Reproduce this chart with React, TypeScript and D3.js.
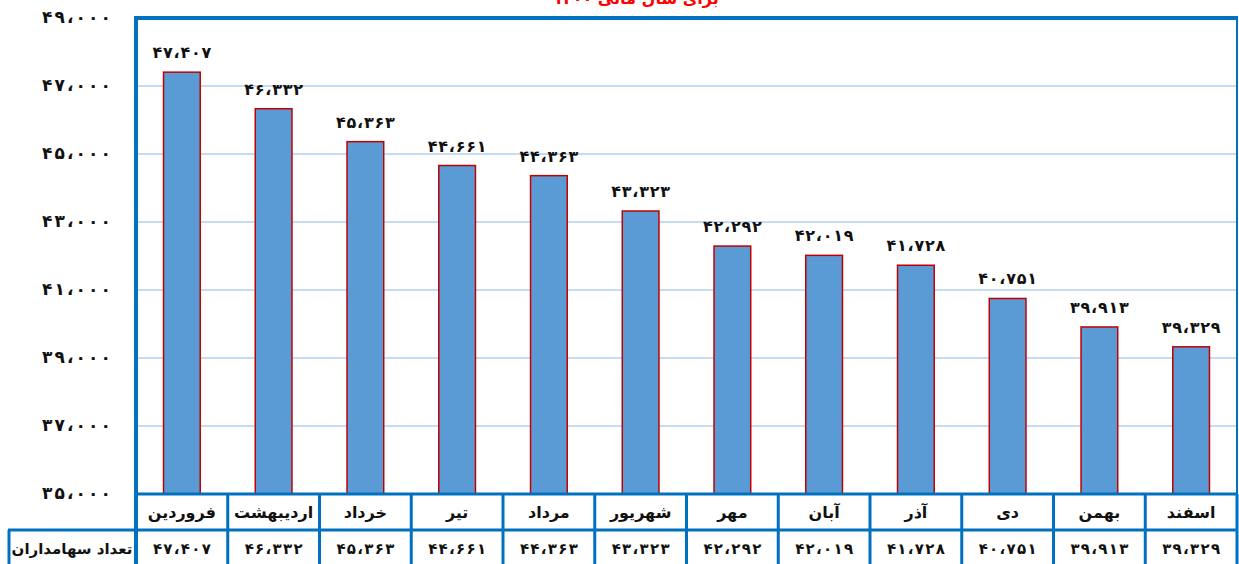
import React, { useRef, useEffect } from 'react';
import * as d3 from 'd3';

const months = ['فروردین', 'اردیبهشت', 'خرداد', 'تیر', 'مرداد', 'شهریور', 'مهر', 'آبان', 'آذر', 'دی', 'بهمن', 'اسفند'];
const holders = [47407, 46332, 45363, 44661, 44363, 43323, 42292, 42019, 41728, 40751, 39913, 39329];
const yTicks = [35000, 37000, 39000, 41000, 43000, 45000, 47000, 49000];
const rowLabel = 'تعداد سهامداران';
const titleText = 'برای سال مالی ۱۴۰۰';

const BLUE = '#0070C0';
const FONT = '"DejaVu Sans", sans-serif';

// persian digits with arabic comma as thousands separator
const fa = (n: number) =>
  d3.format(',')(n).replace(/,/g, '،').replace(/[0-9]/g, d => '۰۱۲۳۴۵۶۷۸۹'[+d]);

export default function App() {
  const ref = useRef<SVGSVGElement | null>(null);

  useEffect(() => {
    const svg = d3.select(ref.current);
    svg.selectAll('*').remove();

    const W = 1239;
    const left = 136, right = 1237, top = 18, bottom = 494;
    const rowH = 36;

    const x = d3.scaleBand().domain(months).range([left, right]).paddingInner(0.6).paddingOuter(0.3);
    const xCell = d3.scaleBand().domain(months).range([left, right]);
    const y = d3.scaleLinear().domain([35000, 49000]).range([bottom, top]);

    // title (cut off at the top like in the source)
    svg.append('text')
      .attr('x', 636).attr('y', 4)
      .attr('text-anchor', 'middle')
      .attr('font-family', FONT).attr('font-weight', 'bold').attr('font-size', 16)
      .attr('fill', '#FF0000')
      .text(titleText);

    // grid lines
    svg.append('g')
      .selectAll('line')
      .data(yTicks.filter(t => t !== 49000 && t !== 35000))
      .join('line')
      .attr('x1', left).attr('x2', right)
      .attr('y1', d => y(d)).attr('y2', d => y(d))
      .attr('stroke', '#8DB9E6').attr('stroke-width', 1);

    // y tick labels (spaced out with textLength, letter-spacing is ignored for arabic script)
    svg.append('g')
      .selectAll('text')
      .data(yTicks)
      .join('text')
      .attr('x', 111).attr('y', d => y(d) + 5)
      .attr('text-anchor', 'end')
      .attr('font-family', FONT).attr('font-weight', 'bold').attr('font-size', 17)
      .attr('textLength', 69).attr('lengthAdjust', 'spacing')
      .attr('fill', '#111')
      .text(d => fa(d));

    // bars
    svg.append('g')
      .selectAll('rect')
      .data(holders)
      .join('rect')
      .attr('x', (d, i) => x(months[i])!)
      .attr('y', d => y(d))
      .attr('width', x.bandwidth())
      .attr('height', d => bottom - y(d))
      .attr('fill', '#5B9BD5')
      .attr('stroke', '#C00000').attr('stroke-width', 1.5);

    // value labels
    svg.append('g')
      .selectAll('text')
      .data(holders)
      .join('text')
      .attr('x', (d, i) => x(months[i])! + x.bandwidth() / 2)
      .attr('y', d => y(d) - 14)
      .attr('text-anchor', 'middle')
      .attr('font-family', FONT).attr('font-weight', 'bold').attr('font-size', 16)
      .attr('textLength', 59).attr('lengthAdjust', 'spacing')
      .attr('fill', '#111')
      .text(d => fa(d));

    // plot frame
    svg.append('line').attr('x1', right).attr('x2', right).attr('y1', top).attr('y2', bottom)
      .attr('stroke', BLUE).attr('stroke-width', 2);
    svg.append('line').attr('x1', left - 2).attr('x2', right + 1).attr('y1', top).attr('y2', top)
      .attr('stroke', BLUE).attr('stroke-width', 4);

    // data table
    const tbl = svg.append('g');
    const r1 = bottom + rowH / 2 + 6;
    const r2 = bottom + rowH + rowH / 2 + 6;
    tbl.selectAll('text.cat')
      .data(months)
      .join('text')
      .attr('class', 'cat')
      .attr('x', d => xCell(d)! + xCell.bandwidth() / 2)
      .attr('y', r1)
      .attr('text-anchor', 'middle')
      .attr('font-family', FONT).attr('font-weight', 'bold').attr('font-size', 16)
      .attr('fill', '#111')
      .text(d => d);
    tbl.selectAll('text.val')
      .data(holders)
      .join('text')
      .attr('class', 'val')
      .attr('x', (d, i) => xCell(months[i])! + xCell.bandwidth() / 2)
      .attr('y', r2)
      .attr('text-anchor', 'middle')
      .attr('font-family', FONT).attr('font-weight', 'bold').attr('font-size', 15)
      .attr('textLength', 58).attr('lengthAdjust', 'spacing')
      .attr('fill', '#111')
      .text(d => fa(d));
    tbl.append('text')
      .attr('x', 72).attr('y', r2)
      .attr('text-anchor', 'middle')
      .attr('font-family', FONT).attr('font-weight', 'bold').attr('font-size', 15)
      .attr('fill', '#111')
      .text(rowLabel);

    const bounds = [left, ...months.map(m => xCell(m)! + xCell.bandwidth())];
    tbl.selectAll('line.v')
      .data(bounds)
      .join('line')
      .attr('class', 'v')
      .attr('x1', d => d).attr('x2', d => d)
      .attr('y1', (d, i) => (i === 0 ? top : bottom)).attr('y2', 570)
      .attr('stroke', BLUE).attr('stroke-width', (d, i) => (i === 0 ? 4 : 3));
    tbl.append('line').attr('x1', left).attr('x2', right).attr('y1', bottom).attr('y2', bottom)
      .attr('stroke', BLUE).attr('stroke-width', 3);
    tbl.append('line').attr('x1', 8).attr('x2', right).attr('y1', bottom + rowH).attr('y2', bottom + rowH)
      .attr('stroke', BLUE).attr('stroke-width', 3);
    tbl.append('line').attr('x1', 9).attr('x2', 9).attr('y1', bottom + rowH).attr('y2', 570)
      .attr('stroke', BLUE).attr('stroke-width', 3);

    svg.attr('width', W).attr('height', 564);
  }, []);

  return <svg ref={ref} style={{ position: 'absolute', left: 0, top: 0, background: '#fff' }} width={1239} height={564} />;
}
